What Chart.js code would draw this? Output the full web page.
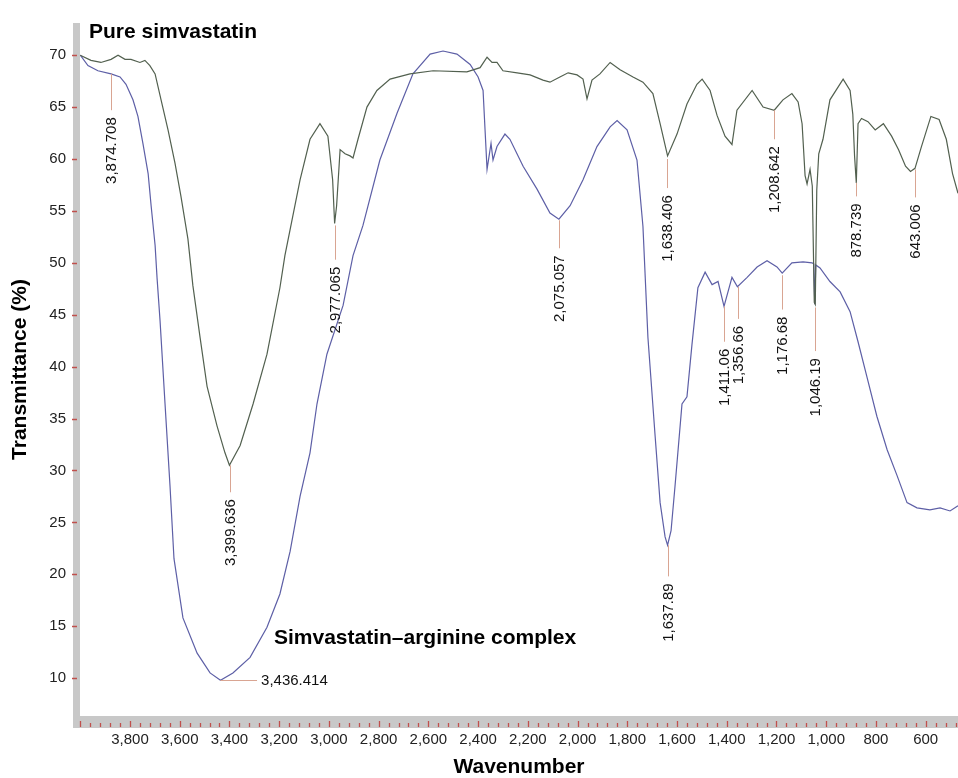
<!DOCTYPE html>
<html>
<head>
<meta charset="utf-8">
<script src="https://cdn.jsdelivr.net/npm/chart.js@4.4.1/dist/chart.umd.min.js"></script>
<style>
  html, body { margin: 0; padding: 0; background: #fff; }
  #wrap { width: 958px; height: 778px; }
</style>
</head>
<body>
<div id="wrap"><canvas id="ftir" width="958" height="778"></canvas></div>
<script>
// FTIR spectra: wavenumber (cm-1) and transmittance (%)
const pureWavenumber = [4000, 3957, 3917, 3876, 3848, 3820, 3796, 3760, 3740, 3720, 3699, 3675, 3647, 3619, 3595, 3567, 3547, 3518, 3490, 3450,
  3418, 3400, 3357, 3305, 3249, 3197, 3177, 3116, 3076, 3036, 3004, 2985, 2977, 2969, 2955, 2935, 2915, 2903, 2883, 2847,
  2807, 2754, 2674, 2581, 2445, 2392, 2364, 2344, 2324, 2300, 2243, 2191, 2139, 2111, 2071, 2038, 2002, 1978, 1962, 1942,
  1910, 1869, 1829, 1777, 1737, 1697, 1668, 1638, 1600, 1560, 1520, 1499, 1467, 1439, 1407, 1379, 1359, 1298, 1254, 1209,
  1174, 1138, 1113, 1097, 1085, 1077, 1065, 1056, 1048, 1044, 1038, 1030, 1013, 985, 932, 904, 893, 886, 879, 872,
  858, 832, 803, 770, 737, 709, 681, 661, 643, 617, 579, 546, 517, 492, 470];
const pureT = [70.0, 69.5, 69.3, 69.6, 70.0, 69.6, 69.6, 69.3, 69.5, 69.0, 68.2, 65.7, 62.8, 59.6, 56.4, 52.3, 47.8, 42.8, 38.1, 34.3,
  31.7, 30.5, 32.4, 36.4, 41.2, 47.6, 50.7, 58.0, 61.9, 63.4, 62.2, 58.0, 53.8, 55.5, 60.9, 60.5, 60.3, 60.1, 61.9, 65.0,
  66.6, 67.7, 68.2, 68.5, 68.4, 68.8, 69.8, 69.3, 69.3, 68.5, 68.3, 68.1, 67.6, 67.4, 67.9, 68.3, 68.1, 67.7, 65.8, 67.6,
  68.2, 69.3, 68.6, 67.9, 67.4, 66.3, 63.4, 60.3, 62.4, 65.3, 67.2, 67.7, 66.6, 64.2, 62.2, 61.4, 64.7, 66.6, 65.0, 64.7,
  65.7, 66.3, 65.5, 63.4, 58.4, 57.6, 59.0, 57.4, 46.2, 46.0, 57.0, 60.5, 61.9, 65.7, 67.7, 66.6, 64.3, 60.3, 57.7, 63.4,
  63.9, 63.6, 62.8, 63.4, 62.2, 60.9, 59.3, 58.8, 59.1, 61.2, 64.1, 63.8, 61.9, 58.6, 56.7];

const complexWavenumber = [4000, 3969, 3929, 3876, 3840, 3816, 3788, 3768, 3748, 3727, 3715, 3699, 3691, 3679, 3659, 3639, 3623, 3587, 3530, 3478,
  3436, 3386, 3317, 3249, 3197, 3156, 3116, 3076, 3048, 3008, 2943, 2903, 2863, 2795, 2726, 2662, 2593, 2541, 2485, 2432,
  2400, 2380, 2372, 2364, 2348, 2340, 2324, 2292, 2272, 2219, 2163, 2111, 2075, 2030, 1978, 1922, 1869, 1841, 1801, 1761,
  1737, 1717, 1688, 1668, 1648, 1638, 1624, 1608, 1580, 1560, 1540, 1516, 1487, 1459, 1435, 1411, 1379, 1357, 1318, 1278,
  1238, 1198, 1177, 1138, 1093, 1057, 1050, 1046, 1042, 1025, 985, 944, 904, 872, 836, 796, 755, 715, 675, 635,
  583, 542, 502, 470];
const complexT = [70.0, 69.0, 68.5, 68.2, 67.9, 67.2, 65.7, 64.1, 61.5, 58.6, 55.5, 51.7, 48.5, 44.4, 36.4, 28.5, 21.5, 15.8, 12.4, 10.5,
  9.8, 10.5, 12.0, 14.9, 18.1, 22.2, 27.5, 31.7, 36.4, 41.2, 45.9, 50.7, 53.6, 59.9, 64.4, 68.2, 70.1, 70.4, 70.1, 69.1,
  67.9, 66.6, 62.8, 59.0, 61.5, 59.9, 61.2, 62.4, 61.9, 59.3, 57.1, 54.8, 54.2, 55.5, 58.0, 61.2, 63.1, 63.7, 62.8, 59.9,
  53.5, 42.8, 33.3, 26.9, 23.6, 22.8, 24.2, 28.5, 36.4, 37.1, 42.1, 47.6, 49.1, 47.9, 48.2, 45.8, 48.6, 47.7, 48.6, 49.6,
  50.2, 49.6, 49.0, 50.0, 50.1, 50.0, 49.9, 46.0, 49.8, 49.5, 48.2, 47.2, 45.3, 42.4, 39.0, 35.2, 32.0, 29.5, 26.9, 26.4,
  26.2, 26.4, 26.1, 26.6];

const xTickValues = [3800, 3600, 3400, 3200, 3000, 2800, 2600, 2400, 2200, 2000, 1800, 1600, 1400, 1200, 1000, 800, 600];
const yTickValues = [10, 15, 20, 25, 30, 35, 40, 45, 50, 55, 60, 65, 70];

// peak annotations: position, text, leader from / to (% T)
const peakWavenumber = [3874.708, 3399.636, 2977.065, 2075.057, 1638.406, 1208.642, 878.739, 643.006, 1637.89, 1411.06, 1356.66, 1176.68, 1046.19];
const peakText = ['3,874.708', '3,399.636', '2,977.065', '2,075.057', '1,638.406', '1,208.642', '878.739', '643.006', '1,637.89', '1,411.06', '1,356.66', '1,176.68', '1,046.19'];
const peakFrom = [68.2, 30.5, 53.6, 54.1, 60.0, 64.7, 57.7, 59.0, 22.8, 45.8, 47.7, 48.8, 45.7];
const peakTo = [64.7, 27.9, 50.3, 51.4, 57.2, 61.9, 56.4, 56.3, 19.8, 42.4, 44.6, 45.5, 41.5];

// the one label that runs sideways
const minPeak = { from: 3436.414, to: 3289, t: 9.85, text: '3,436.414' };

const FONT = "'Liberation Sans', Arial, Helvetica, sans-serif";

const toPoints = (xs, ys) => xs.map((x, i) => ({ x, y: ys[i] }));

const decorations = {
  id: 'decorations',
  beforeDatasetsDraw(chart) {
    const { ctx, chartArea: a, scales: { x, y } } = chart;
    ctx.save();
    // grey axis bars
    ctx.fillStyle = '#c8c8c8';
    ctx.fillRect(a.left - 7, a.top, 7, a.bottom + 12 - a.top);
    ctx.fillRect(a.left - 7, a.bottom, a.right - a.left + 7, 12);

    // red tick marks
    ctx.strokeStyle = '#c0504d';
    ctx.lineWidth = 1.3;
    ctx.beginPath();
    yTickValues.forEach(v => {
      const py = Math.round(y.getPixelForValue(v)) + 0.5;
      ctx.moveTo(a.left - 8, py);
      ctx.lineTo(a.left - 3, py);
    });
    for (let w = 4000; w >= 480; w -= 40) {
      const px = Math.round(x.getPixelForValue(w)) + 0.5;
      const major = w % 200 === 0;
      ctx.moveTo(px, a.bottom + (major ? 5 : 7));
      ctx.lineTo(px, a.bottom + 11);
    }
    ctx.stroke();
    ctx.restore();
  },
  afterDatasetsDraw(chart) {
    const { ctx, scales: { x, y } } = chart;
    ctx.save();
    ctx.strokeStyle = '#d9a592';
    ctx.lineWidth = 1;
    ctx.fillStyle = '#111';
    ctx.font = '15px ' + FONT;

    peakWavenumber.forEach((w, i) => {
      const px = Math.round(x.getPixelForValue(w)) + 0.5;
      const y0 = y.getPixelForValue(peakFrom[i]);
      const y1 = y.getPixelForValue(peakTo[i]);
      ctx.beginPath();
      ctx.moveTo(px, y0);
      ctx.lineTo(px, y1);
      ctx.stroke();
      ctx.save();
      ctx.translate(px, y1 + 7);
      ctx.rotate(-Math.PI / 2);
      ctx.textAlign = 'right';
      ctx.textBaseline = 'middle';
      ctx.fillText(peakText[i], 0, 0);
      ctx.restore();
    });

    const my = Math.round(y.getPixelForValue(minPeak.t)) + 0.5;
    const mx0 = x.getPixelForValue(minPeak.from);
    const mx1 = x.getPixelForValue(minPeak.to);
    ctx.beginPath();
    ctx.moveTo(mx0, my);
    ctx.lineTo(mx1, my);
    ctx.stroke();
    ctx.textAlign = 'left';
    ctx.textBaseline = 'middle';
    ctx.fillText(minPeak.text, mx1 + 4, my);

    // series names
    ctx.fillStyle = '#000';
    ctx.font = 'bold 21px ' + FONT;
    ctx.textBaseline = 'alphabetic';
    ctx.fillText('Pure simvastatin', x.getPixelForValue(3965), y.getPixelForValue(71.66));
    ctx.fillText('Simvastatin\u2013arginine complex', x.getPixelForValue(3221), y.getPixelForValue(13.28));
    ctx.restore();
  }
};

new Chart(document.getElementById('ftir'), {
  type: 'line',
  data: {
    datasets: [
      {
        label: 'Pure simvastatin',
        data: toPoints(pureWavenumber, pureT),
        borderColor: '#52604f',
        borderWidth: 1.2,
        pointRadius: 0,
        tension: 0,
        fill: false,
      },
      {
        label: 'Simvastatin\u2013arginine complex',
        data: toPoints(complexWavenumber, complexT),
        borderColor: '#5d5fa6',
        borderWidth: 1.2,
        pointRadius: 0,
        tension: 0,
        fill: false,
      },
    ],
  },
  options: {
    responsive: false,
    animation: false,
    devicePixelRatio: 1,
    layout: { padding: { left: 8, top: 15, right: 0, bottom: 0 } },
    plugins: {
      legend: { display: false },
      tooltip: { enabled: false },
    },
    scales: {
      x: {
        type: 'linear',
        reverse: true,
        min: 470,
        max: 4001,
        afterBuildTicks: s => { s.ticks = xTickValues.map(value => ({ value })); },
        afterFit: s => { s.height = 62; },
        grid: { display: false, drawTicks: false },
        border: { display: false },
        ticks: {
          autoSkip: false,
          maxRotation: 0,
          padding: 15,
          color: '#222',
          font: { family: FONT, size: 15 },
          callback: v => v.toLocaleString('en-US'),
        },
        title: {
          display: true,
          text: 'Wavenumber',
          color: '#000',
          padding: { top: 0, bottom: 0.5 },
          font: { family: FONT, size: 21, weight: 'bold', lineHeight: 1 },
        },
      },
      y: {
        type: 'linear',
        min: 6.35,
        max: 73.1,
        afterBuildTicks: s => { s.ticks = yTickValues.map(value => ({ value })); },
        afterFit: s => { s.width = 72; },
        grid: { display: false, drawTicks: false },
        border: { display: false },
        ticks: {
          padding: 14,
          color: '#222',
          font: { family: FONT, size: 15 },
        },
        title: {
          display: true,
          text: 'Transmittance (%)',
          color: '#000',
          padding: { top: 1.5, bottom: 0 },
          font: { family: FONT, size: 21, weight: 'bold', lineHeight: 1 },
        },
      },
    },
  },
  plugins: [decorations],
});
</script>
</body>
</html>
